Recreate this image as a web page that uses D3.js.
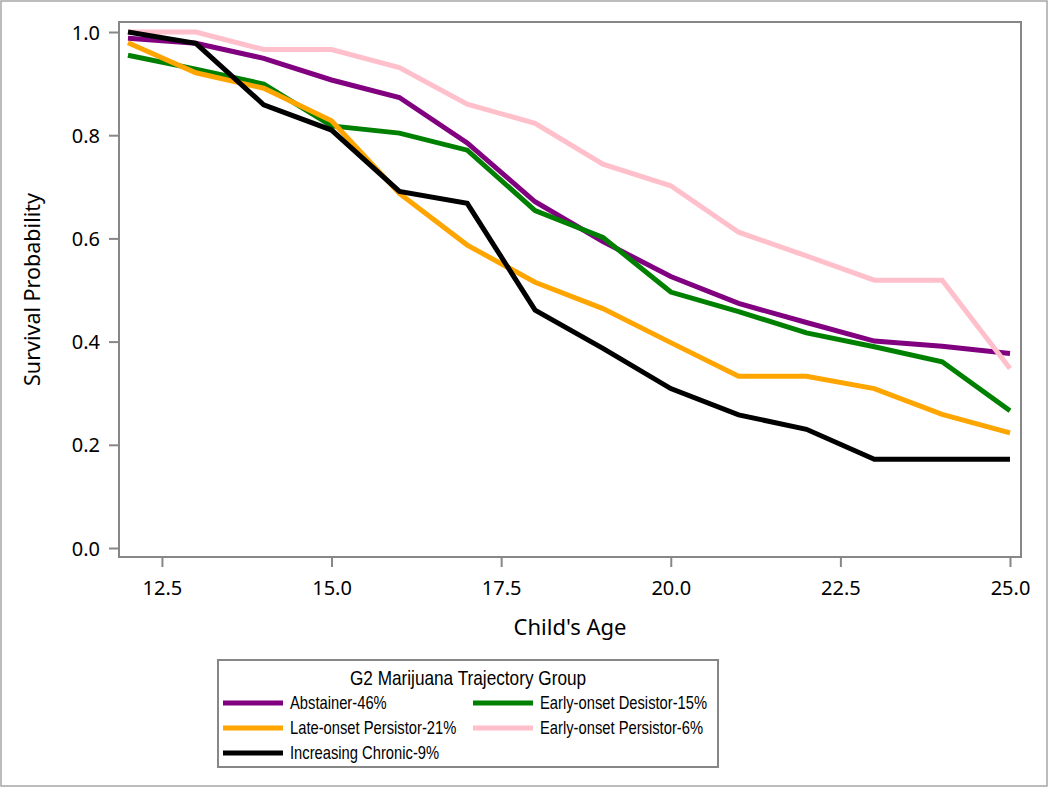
<!DOCTYPE html>
<html>
<head>
<meta charset="utf-8">
<script src="https://cdn.jsdelivr.net/npm/d3@7"></script>
<style>
  html, body { margin: 0; padding: 0; background: #fff; }
  svg { display: block; }
</style>
</head>
<body>
<svg id="chart" width="1050" height="788"></svg>
<script>
const ages = [12, 13, 14, 15, 16, 17, 18, 19, 20, 21, 22, 23, 24, 25];
const abstainer   = [0.988, 0.978, 0.949, 0.907, 0.873, 0.785, 0.671, 0.594, 0.526, 0.474, 0.437, 0.401, 0.391, 0.377];
const earlyDesist = [0.955, 0.928, 0.899, 0.818, 0.804, 0.771, 0.654, 0.602, 0.496, 0.458, 0.417, 0.390, 0.361, 0.266];
const lateOnset   = [0.979, 0.921, 0.891, 0.828, 0.687, 0.587, 0.515, 0.464, 0.398, 0.333, 0.333, 0.309, 0.259, 0.223];
const earlyPersist= [1.000, 1.000, 0.966, 0.966, 0.931, 0.860, 0.823, 0.744, 0.702, 0.612, 0.566, 0.519, 0.519, 0.348];
const increasing  = [1.000, 0.978, 0.859, 0.810, 0.691, 0.668, 0.461, 0.387, 0.309, 0.258, 0.230, 0.172, 0.172, 0.172];

const seriesNames = ["Abstainer-46%", "Early-onset Desistor-15%", "Late-onset Persistor-21%", "Early-onset Persistor-6%", "Increasing Chronic-9%"];
const seriesValues = [abstainer, earlyDesist, lateOnset, earlyPersist, increasing];
const seriesColors = ["#800080", "#008000", "#FFA500", "#FFC0CB", "#000000"];
const xTicks = [12.5, 15.0, 17.5, 20.0, 22.5, 25.0];
const yTicks = [0.0, 0.2, 0.4, 0.6, 0.8, 1.0];
const xLabel = "Child's Age";
const yLabel = "Survival Probability";
const legendTitle = "G2 Marijuana Trajectory Group";

const svg = d3.select("#chart");
const W = 1050, H = 788;
const frame = {left: 119, top: 22, right: 1021, bottom: 557};
const axisColor = "#878787";
const axisFont = "'Noto Sans', 'Open Sans', sans-serif";
const legendFont = "'Liberation Sans', Arial, sans-serif";
const narrow = 0.82;

// outer border
svg.append("rect").attr("x", 1).attr("y", 1).attr("width", W - 4).attr("height", H - 3)
  .attr("fill", "none").attr("stroke", "#a6a6a6").attr("stroke-width", 1.5);

const x = d3.scaleLinear().domain([12, 25]).range([128, 1010]);
const y = d3.scaleLinear().domain([0, 1]).range([548, 32]);

// axes
const xAxis = d3.axisBottom(x).tickValues(xTicks).tickFormat(d3.format(".1f")).tickSize(10).tickSizeOuter(0);
const yAxis = d3.axisLeft(y).tickValues(yTicks).tickFormat(d3.format(".1f")).tickSize(10).tickSizeOuter(0);

const gx = svg.append("g").attr("transform", `translate(0,${frame.bottom})`).call(xAxis);
const gy = svg.append("g").attr("transform", `translate(${frame.left},0)`).call(yAxis);
[gx, gy].forEach(g => {
  g.select(".domain").remove();
  g.selectAll(".tick line").attr("stroke", axisColor).attr("stroke-width", 2);
  g.selectAll(".tick text").attr("fill", "#000").style("font-family", axisFont).style("font-size", "20px");
});
gx.selectAll(".tick text").attr("y", 0).attr("dy", 38);
gy.selectAll(".tick text").attr("x", -19).attr("dy", "0.35em");

// lines
const line = d3.line().x((d, i) => x(ages[i])).y(d => y(d));
const plot = svg.append("g");
seriesValues.forEach((vals, k) => {
  plot.append("path").datum(vals).attr("d", line)
    .attr("fill", "none").attr("stroke", seriesColors[k]).attr("stroke-width", 5)
    .attr("stroke-linejoin", "miter").attr("stroke-linecap", "butt");
});

// frame
svg.append("rect").attr("x", frame.left).attr("y", frame.top)
  .attr("width", frame.right - frame.left).attr("height", frame.bottom - frame.top)
  .attr("fill", "none").attr("stroke", axisColor).attr("stroke-width", 2);

// axis labels
svg.append("text").attr("x", (frame.left + frame.right) / 2).attr("y", 635)
  .attr("text-anchor", "middle").style("font-family", axisFont).style("font-size", "22px")
  .text(xLabel);
svg.append("text").attr("transform", `translate(40,${(frame.top + frame.bottom) / 2}) rotate(-90)`)
  .attr("text-anchor", "middle").style("font-family", axisFont).style("font-size", "21.5px")
  .text(yLabel);

// legend
const lg = svg.append("g");
lg.append("rect").attr("x", 218).attr("y", 660).attr("width", 500).attr("height", 107)
  .attr("fill", "none").attr("stroke", axisColor).attr("stroke-width", 2);
lg.append("text").attr("transform", `translate(468,685) scale(${narrow},1)`).attr("text-anchor", "middle")
  .style("font-family", legendFont).style("font-size", "21px").text(legendTitle);
const cols = [223, 473];
const rows = [703, 728, 753];
seriesNames.forEach((name, k) => {
  const cx = cols[k % 2], cy = rows[Math.floor(k / 2)];
  lg.append("line").attr("x1", cx).attr("x2", cx + 60).attr("y1", cy).attr("y2", cy)
    .attr("stroke", seriesColors[k]).attr("stroke-width", 5);
  lg.append("text").attr("transform", `translate(${cx + 67},${cy}) scale(${narrow},1)`).attr("dy", "0.35em")
    .style("font-family", legendFont).style("font-size", "18px").text(name);
});
</script>
</body>
</html>
